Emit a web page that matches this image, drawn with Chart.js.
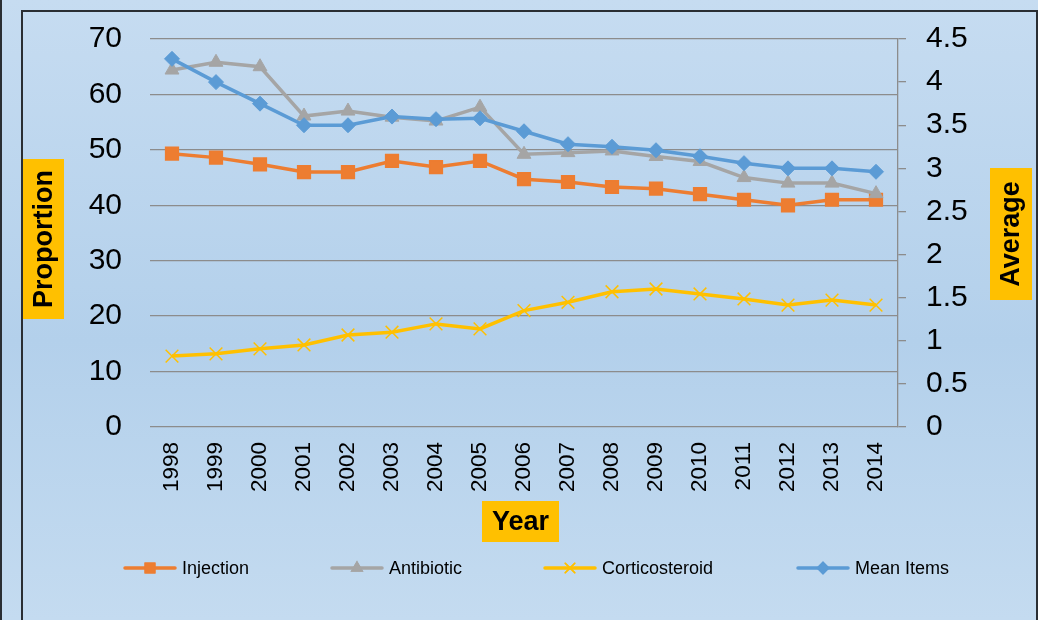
<!DOCTYPE html>
<html>
<head>
<meta charset="utf-8">
<script src="https://cdn.jsdelivr.net/npm/chart.js"></script>
<style>
  body {
    margin: 0;
    width: 1038px;
    height: 620px;
    overflow: hidden;
    position: relative;
    background: linear-gradient(to bottom, #c6dcf1 0%, #b3d0eb 55%, #c4dbf0 100%);
    font-family: 'Liberation Sans', Arial, sans-serif;
  }
  #edge { position: absolute; left: 0; top: 0; width: 2px; height: 620px; background: #2a2e33; }
  #frame {
    position: absolute; left: 21px; top: 10px; width: 1013px; height: 620px;
    border: 2px solid #2a2e33; border-bottom: none;
  }
  #myChart { position: absolute; left: 0; top: 0; }
  .legItem { position: absolute; top: 558px; height: 20px; display: flex; align-items: center; font-size: 18px; color: #000; }
  .legItem canvas { margin-right: 5px; }
</style>
</head>
<body>
<div id="edge"></div>
<div id="frame"></div>
<canvas id="myChart" width="1038" height="620"></canvas>
<div id="legend"></div>

<script>
// categories
const years = ['1998', '1999', '2000', '2001', '2002', '2003', '2004', '2005', '2006',
  '2007', '2008', '2009', '2010', '2011', '2012', '2013', '2014'];

// left axis (Proportion)
const injection = [49.3, 48.6, 47.4, 46.0, 46.0, 48.0, 46.9, 48.0, 44.7, 44.2, 43.3, 43.0, 42.0, 41.0, 40.0, 41.0, 41.0];
const antibiotic = [64.4, 65.8, 65.0, 56.1, 57.0, 55.9, 55.2, 57.7, 49.2, 49.5, 49.8, 48.8, 47.9, 45.0, 44.0, 44.0, 42.1];
const corticosteroid = [12.8, 13.2, 14.1, 14.8, 16.6, 17.1, 18.6, 17.7, 21.0, 22.5, 24.4, 24.9, 24.0, 23.1, 22.0, 22.9, 22.0];

// right axis (Average)
const meanItems = [4.27, 4.0, 3.75, 3.5, 3.5, 3.6, 3.57, 3.58, 3.43, 3.28, 3.25, 3.21, 3.14, 3.06, 3.0, 3.0, 2.96];

const FONT = "'Liberation Sans', Arial, sans-serif";
const gridGray = '#8c8c8c';

// orange boxes behind the axis titles
const axisTitles = {
  id: 'axisTitles',
  afterDraw(chart) {
    const c = chart.ctx;
    const box = (x, y, w, h, text, rot) => {
      c.save();
      c.fillStyle = '#ffc000';
      c.fillRect(x, y, w, h);
      c.translate(x + w / 2, y + h / 2);
      c.rotate(rot);
      c.fillStyle = '#000';
      c.font = 'bold 27px ' + FONT;
      c.textAlign = 'center';
      c.textBaseline = 'middle';
      c.fillText(text, 0, 1);
      c.restore();
    };
    box(23, 159, 41, 160, 'Proportion', -Math.PI / 2);
    box(990, 168, 42, 132, 'Average', -Math.PI / 2);
    box(482, 501, 77, 41, 'Year', 0);
  }
};

// the big tick padding would push the plot area down, drop it
const noVertPadding = (s) => { s.paddingTop = 0; s.paddingBottom = 0; };

const data = {
  labels: years,
  datasets: [{
    label: 'Injection',
    data: injection,
    yAxisID: 'y',
    borderColor: '#ed7d31',
    backgroundColor: '#ed7d31',
    borderWidth: 3.5,
    pointStyle: 'rect',
    pointRadius: 9,
    pointBorderWidth: 1.5,
    order: 4
  },
  {
    label: 'Antibiotic',
    data: antibiotic,
    yAxisID: 'y',
    borderColor: '#a5a5a5',
    backgroundColor: '#a5a5a5',
    borderWidth: 3.5,
    pointStyle: 'triangle',
    pointRadius: 8,
    pointBorderWidth: 1,
    order: 3
  },
  {
    label: 'Corticosteroid',
    data: corticosteroid,
    yAxisID: 'y',
    borderColor: '#ffc000',
    backgroundColor: '#ffc000',
    borderWidth: 3.5,
    pointStyle: 'crossRot',
    pointRadius: 9,
    pointBorderWidth: 1.5,
    order: 2
  },
  {
    label: 'Mean Items',
    data: meanItems,
    yAxisID: 'y1',
    borderColor: '#5b9bd5',
    backgroundColor: '#5b9bd5',
    borderWidth: 3.5,
    pointStyle: 'rectRot',
    pointRadius: 7.5,
    pointBorderWidth: 1,
    order: 1
  }]
};

const config = {
  type: 'line',
  data,
  options: {
    responsive: false,
    animation: false,
    layout: { padding: { top: 39, bottom: 113, left: 0, right: 0 } },
    elements: { line: { tension: 0 } },
    plugins: {
      legend: { display: false },
      tooltip: { enabled: false }
    },
    scales: {
      x: {
        offset: true,
        grid: { display: false, drawTicks: false },
        border: { display: false },
        ticks: { minRotation: 90, maxRotation: 90, padding: 15, color: '#000', font: { family: FONT, size: 22.5 } },
        afterFit: (s) => { s.height = 80; }
      },
      y: {
        position: 'left',
        min: 0,
        max: 70,
        ticks: { stepSize: 10, padding: 28, color: '#000', font: { family: FONT, size: 30 } },
        grid: { color: gridGray, lineWidth: 1.3, drawTicks: false },
        border: { display: false },
        afterFit: (s) => { s.width = 150; noVertPadding(s); }
      },
      y1: {
        position: 'right',
        min: 0,
        max: 4.5,
        ticks: {
          stepSize: 0.5, padding: 20, color: '#000', font: { family: FONT, size: 30 },
          callback: (v) => String(v)
        },
        grid: { drawOnChartArea: false, color: gridGray, lineWidth: 1.3, tickLength: 8 },
        border: { display: true, color: gridGray, width: 1.3 },
        afterFit: (s) => { s.width = 140; noVertPadding(s); }
      }
    }
  },
  plugins: [axisTitles]
};

const ctx = document.getElementById('myChart').getContext('2d');
const myChart = new Chart(ctx, config);

// legend: line with the marker in the middle, like the office one
const legendLeft = [123, 330, 543, 796];
const legendBox = document.getElementById('legend');
data.datasets.forEach((ds, i) => {
  const item = document.createElement('div');
  item.className = 'legItem';
  item.style.left = legendLeft[i] + 'px';
  const sym = document.createElement('canvas');
  sym.width = 54;
  sym.height = 20;
  const g = sym.getContext('2d');
  g.strokeStyle = ds.borderColor;
  g.fillStyle = ds.backgroundColor;
  g.lineWidth = 3.5;
  g.lineCap = 'round';
  g.beginPath();
  g.moveTo(2, 10);
  g.lineTo(52, 10);
  g.stroke();
  g.lineWidth = 1.5;
  Chart.helpers.drawPoint(g, { pointStyle: ds.pointStyle, radius: ds.pointRadius * 0.75, borderWidth: 1.5 }, 27, 10);
  g.fill();
  g.stroke();
  const txt = document.createElement('span');
  txt.textContent = ds.label;
  item.appendChild(sym);
  item.appendChild(txt);
  legendBox.appendChild(item);
});
</script>
</body>
</html>
